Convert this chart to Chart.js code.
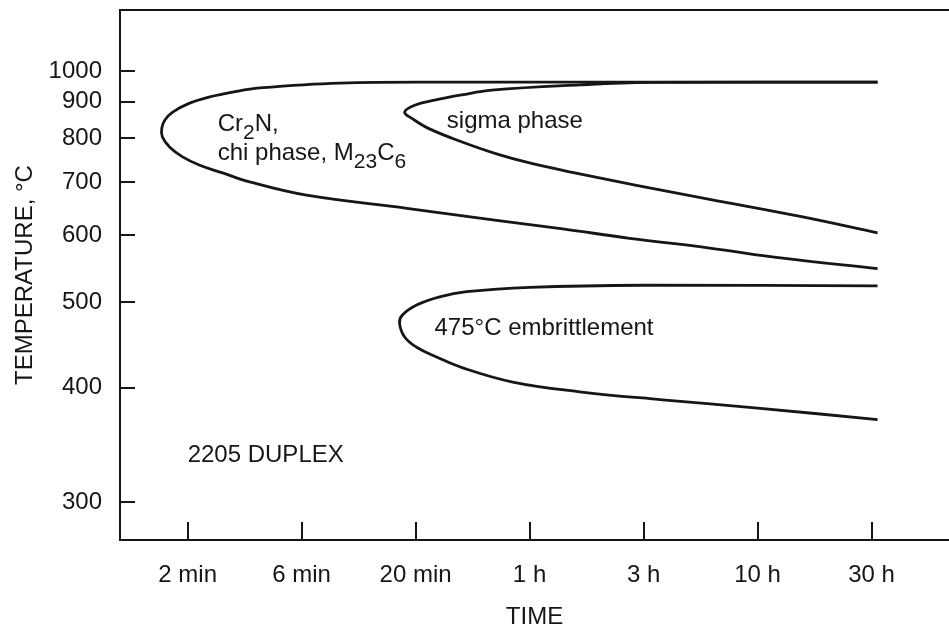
<!DOCTYPE html>
<html>
<head>
<meta charset="utf-8">
<script src="https://cdn.jsdelivr.net/npm/chart.js@4.4.0/dist/chart.umd.min.js"></script>
<style>
html, body { margin: 0; padding: 0; background: #fff; }
</style>
</head>
<body>
<canvas id="ttt" width="949" height="632"></canvas>
<script>
// time axis (minutes), ticks every half decade
var timeTicks = [2, 6.32, 20, 63.2, 200, 632, 2000];
var timeLabels = ['2 min', '6 min', '20 min', '1 h', '3 h', '10 h', '30 h'];
var tempTicks = [300, 400, 500, 600, 700, 800, 900, 1000];

// Cr2N, chi phase, M23C6 curve: upper branch -> nose -> lower branch
var cr2nTime = [2124, 200, 34.5, 9.28, 4.14, 3.15, 2.50, 2.04, 1.72, 1.59, 1.54, 1.55, 1.67, 1.90, 2.26, 2.85, 3.74, 6.65, 18.3, 45.3, 88.3, 173.6, 389.6, 814, 2124];
var cr2nTemp = [962, 962, 962, 959, 943, 930, 915, 896, 870, 848, 826, 803, 778, 755, 736, 719, 700, 673, 648, 626, 611, 595, 579, 563, 547];

// sigma phase curve
var sigmaTime = [2124, 212, 104.8, 43.1, 31.8, 24.2, 19.8, 17.9, 19.4, 23.0, 32.2, 45.3, 63.2, 104.8, 186, 389.6, 997, 2124];
var sigmaTemp = [962, 961, 953, 936, 921, 905, 890, 870, 851, 824, 790, 762, 741, 717, 693, 665, 632, 604];

// 475 C embrittlement curve
var embTime = [2124, 200, 63.2, 33.5, 25.5, 20.2, 17.5, 17.0, 17.9, 20.2, 24.7, 32.2, 53.3, 104.8, 242.4, 632, 2124];
var embTemp = [522, 523, 520, 514, 507, 496, 483, 473, 456, 444, 433, 421, 406, 396, 388, 380, 369];

var ink = '#161616';

// temperature axis is spaced like 1/(T+300)
function toY(T) { return -1e5 / (T + 300); }
function fromY(u) { return -1e5 / u - 300; }

var curves = [[cr2nTime, cr2nTemp], [sigmaTime, sigmaTemp], [embTime, embTemp]];

// text labels inside the plot, anchored at (time, temperature); second item = subscript
var notes = [
    { t: 2.71, T: 818, parts: [['Cr', 0], ['2', 1], ['N,', 0]] },
    { t: 2.71, T: 748, parts: [['chi phase, M', 0], ['23', 1], ['C', 0], ['6', 1]] },
    { t: 27.4, T: 826, parts: [['sigma phase', 0]] },
    { t: 24.2, T: 458, parts: [['475°C embrittlement', 0]] },
    { t: 2, T: 332, parts: [['2205 DUPLEX', 0]] }
];

var fontFamily = '"Liberation Sans", Arial, Helvetica, sans-serif';
Chart.defaults.font.family = fontFamily;

var extras = {
    id: 'extras',
    afterDraw: function (chart) {
        var ctx = chart.ctx, a = chart.chartArea;
        var xs = chart.scales.x, ys = chart.scales.y;
        ctx.save();
        // top frame line
        ctx.strokeStyle = ink;
        ctx.lineWidth = 2;
        ctx.beginPath();
        ctx.moveTo(a.left, a.top);
        ctx.lineTo(a.right, a.top);
        ctx.stroke();
        // notes
        ctx.fillStyle = ink;
        ctx.textBaseline = 'alphabetic';
        ctx.textAlign = 'left';
        notes.forEach(function (n) {
            var x = xs.getPixelForValue(n.t);
            var y = ys.getPixelForValue(toY(n.T));
            n.parts.forEach(function (p) {
                ctx.font = (p[1] ? '21px ' : '24px ') + fontFamily;
                ctx.fillText(p[0], x, y + (p[1] ? 8 : 0));
                x += ctx.measureText(p[0]).width;
            });
        });
        ctx.restore();
    }
};

var ctx = document.getElementById('ttt');
var myChart = new Chart(ctx, {
    type: 'scatter',
    data: {
        datasets: curves.map(function (c) {
            return {
                data: c[0].map(function (t, i) { return { x: t, y: toY(c[1][i]) }; }),
                showLine: true,
                borderColor: ink,
                borderWidth: 2.8,
                tension: 0.4,
                pointRadius: 0,
                fill: false
            };
        })
    },
    options: {
        responsive: false,
        animation: false,
        devicePixelRatio: 1,
        layout: { padding: { top: 10, right: 0, left: 0, bottom: 0 } },
        plugins: {
            legend: { display: false },
            tooltip: { enabled: false }
        },
        scales: {
            x: {
                type: 'logarithmic',
                min: 1.01,
                max: 4370,
                afterBuildTicks: function (s) { s.ticks = timeTicks.map(function (v) { return { value: v }; }); },
                afterFit: function (s) { s.height = 92; s.paddingLeft = 0; s.paddingRight = 0; },
                ticks: {
                    autoSkip: false,
                    maxRotation: 0,
                    padding: 39,
                    color: ink,
                    font: { size: 24 },
                    callback: function (v, i) { return timeLabels[i]; }
                },
                grid: { drawOnChartArea: false, drawTicks: true, tickLength: -18, color: ink, lineWidth: 2 },
                border: { display: true, color: ink, width: 2 },
                title: { display: true, text: 'TIME', color: ink, font: { size: 24 }, padding: 0 }
            },
            y: {
                type: 'linear',
                min: toY(273),
                max: toY(1257),
                afterBuildTicks: function (s) { s.ticks = tempTicks.map(function (T) { return { value: toY(T) }; }); },
                afterFit: function (s) { s.width = 120; s.paddingTop = 0; s.paddingBottom = 0; },
                ticks: {
                    padding: 33,
                    color: ink,
                    font: { size: 24 },
                    callback: function (v) { return String(Math.round(fromY(v))); }
                },
                grid: { drawOnChartArea: false, drawTicks: true, tickLength: -15, color: ink, lineWidth: 2 },
                border: { display: true, color: ink, width: 2 },
                title: { display: true, text: 'TEMPERATURE, °C', color: ink, font: { size: 24 }, padding: { top: 11, bottom: 0 } }
            }
        }
    },
    plugins: [extras]
});
</script>
</body>
</html>
